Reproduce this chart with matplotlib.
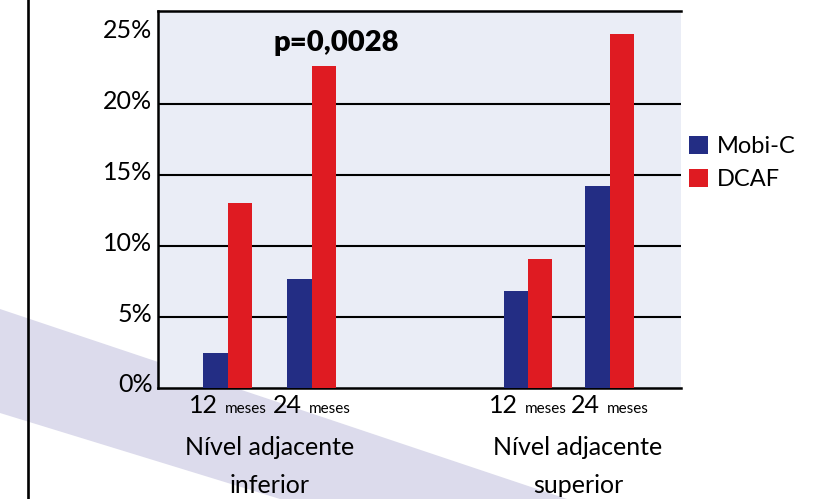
# bar chart: adjacent-level degeneration, Mobi-C vs DCAF
import matplotlib
matplotlib.use("Agg")
import matplotlib.pyplot as plt
import matplotlib.transforms as mtransforms
from matplotlib.patches import Polygon
from matplotlib.lines import Line2D
from matplotlib.offsetbox import TextArea, HPacker, AnnotationBbox

plt.rcParams['font.family'] = ['Lato', 'DejaVu Sans']

# data
months = ['12', '24', '12', '24']
month_unit = 'meses'
levels = [('Nível adjacente', 'inferior'), ('Nível adjacente', 'superior')]
series = ['Mobi-C', 'DCAF']
mobic = [2.5, 7.7, 6.8, 14.2]
dcaf = [13.0, 22.7, 9.1, 24.9]
yticks = [0, 5, 10, 15, 20, 25]
ytick_labels = ['0%', '5%', '10%', '15%', '20%', '25%']
p_label = 'p=0,0028'

xpos = [1.0, 2.0, 4.57, 5.54]
w = 0.29
blue = '#232d84'
red = '#df1b22'

fig = plt.figure(figsize=(8.14, 4.99), dpi=100)

# decorative background band + left rule
W, H = 814, 499
band = [(0, 309), (567, 499), (280, 499), (0, 413)]
fig.patches.append(Polygon([(x / W, 1 - y / H) for x, y in band], closed=True,
                           transform=fig.transFigure, facecolor='#dcdbec',
                           edgecolor='none', zorder=0))
fig.add_artist(Line2D([28 / W, 28 / W], [0, 1], color='black', lw=1.9,
                      transform=fig.transFigure, zorder=5))

ax = fig.add_axes([158 / W, 1 - 388 / H, (681 - 158) / W, (388 - 11) / H])
ax.set_facecolor('#eaedf6')
ax.set_zorder(2)

ax.bar([x - w / 2 for x in xpos], mobic, w, color=blue, label=series[0], zorder=3)
ax.bar([x + w / 2 for x in xpos], dcaf, w, color=red, label=series[1], zorder=3)

ax.set_xlim(0.17, 6.39)
ax.set_ylim(0, 26.55)
for v in yticks[1:-1]:
    ax.axhline(v, color='black', lw=1.5, zorder=2)

ax.set_yticks(yticks)
ax.set_yticklabels(ytick_labels, fontsize=18)
ax.tick_params(axis='y', length=0, pad=4)
shift = mtransforms.ScaledTranslation(0, 5 / 100, fig.dpi_scale_trans)
for lab in ax.get_yticklabels():
    lab.set_transform(lab.get_transform() + shift)
ax.set_xticks([])

for s in ['left', 'bottom', 'top']:
    ax.spines[s].set_linewidth(1.8)
ax.spines['right'].set_visible(False)

# month labels under each pair
for x, m in zip(xpos, months):
    box = HPacker(children=[TextArea(m, textprops=dict(fontsize=18)),
                            TextArea(month_unit, textprops=dict(fontsize=11))],
                  align='baseline', pad=0, sep=5)
    ab = AnnotationBbox(box, (x, 0), xycoords=('data', 'axes fraction'),
                        box_alignment=(0.5, 1), xybox=(0, -4.5),
                        boxcoords='offset points', frameon=False, pad=0)
    ax.add_artist(ab)

# group labels, two lines each
for cx, (l1, l2) in zip([270, 578], levels):
    fig.text(cx / W, 1 - 455 / H, l1, ha='center', va='baseline', fontsize=18)
    fig.text(cx / W, 1 - 493 / H, l2, ha='center', va='baseline', fontsize=18)

ax.text((336 - 158) / (681 - 158), (388 - 43) / 377, p_label, transform=ax.transAxes,
        ha='center', va='center', fontsize=21, fontweight='heavy', zorder=4)

leg = ax.legend(loc='upper left', bbox_to_anchor=(689 / W, 1 - 136 / H),
                bbox_transform=fig.transFigure, frameon=False, fontsize=17,
                handlelength=0.8, handleheight=0.8, handletextpad=0.4,
                labelspacing=0.5, borderpad=0, borderaxespad=0)

fig.savefig('out.png', dpi=100)
